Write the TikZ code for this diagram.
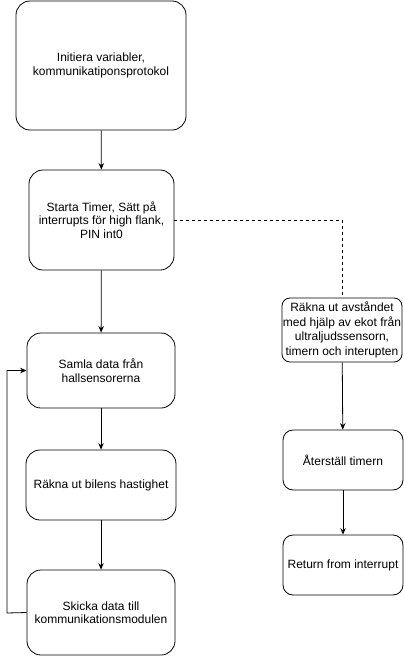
\documentclass[tikz,border=0pt]{standalone}
\usepackage{fontspec}
\setmainfont{Liberation Sans}
\usetikzlibrary{arrows.meta}
\begin{document}
\begin{tikzpicture}[x=1pt,y=-1pt,
  box/.style={draw=black,line width=0.8pt,rounded corners=#1,align=center,inner sep=0pt,
    font=\fontsize{12}{13.5}\selectfont},
  box/.default=14pt,
  arr/.style={line width=0.8pt,-{Stealth[length=6.5pt,width=5.5pt]}},
  dsh/.style={line width=0.8pt,dash pattern=on 3pt off 3pt}]
\useasboundingbox (0,0) rectangle (404,656);
\node[box,minimum width=170pt,minimum height=129pt] (b1) at (101,65.5) {Initiera variabler,\\kommunikatiponsprotokol};
\node[box,minimum width=145pt,minimum height=100pt] (b2) at (101.5,220) {Starta Timer, Sätt på\\interrupts för high flank,\\PIN int0};
\node[box,minimum width=148pt,minimum height=75pt] (b3) at (101,370.5) {Samla data från\\hallsensorerna};
\node[box,minimum width=150pt,minimum height=70pt] (b4) at (101,485) {Räkna ut bilens hastighet};
\node[box,minimum width=148pt,minimum height=85pt] (b5) at (101,612.5) {Skicka data till\\kommunikationsmodulen};
\node[box=8pt,minimum width=120pt,minimum height=64pt,font=\fontsize{12}{14.5}\selectfont] (r1) at (342,330) {Räkna ut avståndet\\med hjälp av ekot från\\ultraljudssensorn,\\timern och interupten};
\node[box=10pt,minimum width=120pt,minimum height=60pt] (r2) at (343,460) {Återställ timern};
\node[box=10pt,minimum width=120pt,minimum height=60pt] (r3) at (343,565) {Return from interrupt};
\coordinate (lp) at (7,613);
\draw[arr] (b1) -- (b2);
\draw[arr] (b2) -- (b3);
\draw[arr] (b3) -- (b4);
\draw[arr] (b4) -- (b5);
\draw[arr] (b5.west) -- (lp) |- (b3.west);
\draw[dsh] (b2.east) -| (r1.north);
\draw[arr] (r1) -- (r2);
\draw[arr] (r2) -- (r3);
\end{tikzpicture}
\end{document}
